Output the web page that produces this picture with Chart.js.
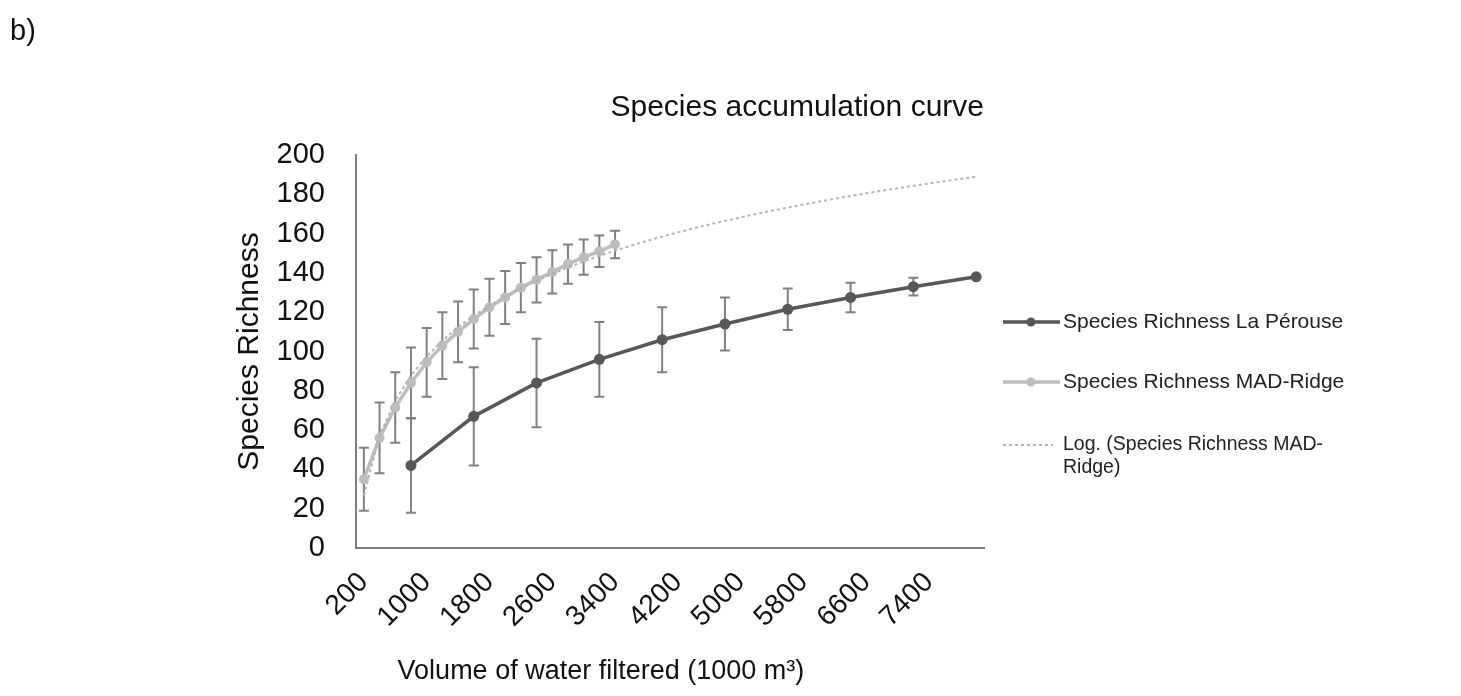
<!DOCTYPE html>
<html>
<head>
<meta charset="utf-8">
<script src="https://cdn.jsdelivr.net/npm/chart.js@4.4.1/dist/chart.umd.min.js"></script>
<style>
  html, body { margin: 0; background: #fff; }
  #wrap { position: relative; width: 1461px; height: 696px; }
  #panel {
    position: absolute; left: 10px; top: 14px;
    font: 29px "Liberation Sans", Arial, sans-serif; color: #111;
  }
</style>
</head>
<body>
<div id="wrap">
  <canvas id="myChart" width="1461" height="696"></canvas>
  <div id="panel">b)</div>
</div>
<script>
// Volume categories (1000 m3), one every 200
const volumes = [
  200, 400, 600, 800, 1000, 1200, 1400, 1600, 1800, 2000,
  2200, 2400, 2600, 2800, 3000, 3200, 3400, 3600, 3800, 4000,
  4200, 4400, 4600, 4800, 5000, 5200, 5400, 5600, 5800, 6000,
  6200, 6400, 6600, 6800, 7000, 7200, 7400, 7600, 7800, 8000,
];

// MAD-Ridge stations
const madRidgeVolumes = [
  200, 400, 600, 800, 1000, 1200, 1400, 1600, 1800,
  2000, 2200, 2400, 2600, 2800, 3000, 3200, 3400,
];
const madRidgeRichness = [
  35, 56, 71.5, 84, 94.5, 103, 110, 116.5, 122.5,
  127.5, 132.5, 136.5, 140.5, 144.5, 148, 151, 154.5,
];
const madRidgeSD = [
  16, 18, 18, 18, 17.5, 17, 15.5, 15, 14.5,
  13.5, 12.5, 11.5, 11, 10, 9, 8, 7,
];

// La Pérouse stations
const laPerouseVolumes = [800, 1600, 2400, 3200, 4000, 4800, 5600, 6400, 7200, 8000];
const laPerouseRichness = [42, 67, 84, 96, 106, 114, 121.5, 127.5, 133, 138];
const laPerouseSD = [24, 25, 22.5, 19, 16.5, 13.5, 10.5, 7.5, 4.5, 0];

const yTicks = [0, 20, 40, 60, 80, 100, 120, 140, 160, 180, 200];

const DARK = "#575757";
const LIGHT = "#bdbdbd";
const TEXT = "#111";

// log trendline (y = a*ln(n) + b, n = category number) fitted on MAD-Ridge
function logFit(ys) {
  const xs = ys.map((_, i) => Math.log(i + 1));
  const n = ys.length;
  const mx = xs.reduce((s, v) => s + v, 0) / n;
  const my = ys.reduce((s, v) => s + v, 0) / n;
  let sxy = 0, sxx = 0;
  xs.forEach((x, i) => {
    sxy += (x - mx) * (ys[i] - my);
    sxx += (x - mx) * (x - mx);
  });
  const a = sxy / sxx;
  return { a, b: my - a * mx };
}
const fit = logFit(madRidgeRichness);

// error bars drawn under the lines
const errorBars = {
  id: "errorBars",
  beforeDatasetsDraw(chart) {
    const { ctx } = chart;
    const y = chart.scales.y;
    ctx.save();
    ctx.strokeStyle = "#808080";
    ctx.lineWidth = 2;
    chart.data.datasets.forEach((ds, di) => {
      if (!ds.errors) return;
      const meta = chart.getDatasetMeta(di);
      meta.data.forEach((pt, i) => {
        const err = ds.errors[i];
        if (!err) return;
        const v = ds.data[i].y;
        const top = y.getPixelForValue(v + err);
        const bot = y.getPixelForValue(v - err);
        ctx.beginPath();
        ctx.moveTo(pt.x, top);
        ctx.lineTo(pt.x, bot);
        ctx.moveTo(pt.x - 5, top);
        ctx.lineTo(pt.x + 5, top);
        ctx.moveTo(pt.x - 5, bot);
        ctx.lineTo(pt.x + 5, bot);
        ctx.stroke();
      });
    });
    ctx.restore();
  },
};

// legend on the right + x axis caption
const sideLegend = {
  id: "sideLegend",
  afterDraw(chart) {
    const { ctx, chartArea } = chart;
    const x0 = chartArea.right + 19;
    const rows = [167, 227, 290];
    ctx.save();
    chart.data.datasets.forEach((ds, i) => {
      const yy = chartArea.top + rows[i];
      ctx.beginPath();
      ctx.setLineDash(ds.borderDash || []);
      ctx.strokeStyle = ds.borderColor;
      ctx.lineWidth = ds.borderWidth;
      ctx.moveTo(x0, yy);
      ctx.lineTo(x0 + (ds.pointRadius ? 57 : 50), yy);
      ctx.stroke();
      ctx.setLineDash([]);
      if (ds.pointRadius) {
        ctx.beginPath();
        ctx.fillStyle = ds.backgroundColor;
        ctx.arc(x0 + 28, yy, 4.5, 0, Math.PI * 2);
        ctx.fill();
      }
      const lines = ds.legendText || [ds.label];
      ctx.fillStyle = "#222";
      ctx.font = (ds.legendSize || 21) + 'px "Liberation Sans", Arial, sans-serif';
      ctx.textBaseline = "middle";
      ctx.textAlign = "left";
      lines.forEach((t, k) => ctx.fillText(t, x0 + 60, yy + k * 23));
    });

    ctx.font = '27px "Liberation Sans", Arial, sans-serif';
    ctx.fillStyle = TEXT;
    ctx.textAlign = "center";
    ctx.textBaseline = "middle";
    ctx.fillText("Volume of water filtered (1000 m³)",
      chartArea.left + chartArea.width * 0.39, chartArea.bottom + 124);
    ctx.restore();
  },
};

Chart.defaults.font.family = '"Liberation Sans", Arial, sans-serif';

const ctx = document.getElementById("myChart");
new Chart(ctx, {
  type: "line",
  data: {
    labels: volumes.map(String),
    datasets: [
      {
        label: "Species Richness La Pérouse",
        data: laPerouseVolumes.map((v, i) => ({ x: String(v), y: laPerouseRichness[i] })),
        errors: laPerouseSD,
        borderColor: DARK,
        backgroundColor: DARK,
        borderWidth: 3.5,
        pointRadius: 5.5,
        pointBorderWidth: 0,
        spanGaps: true,
        order: 0,
      },
      {
        label: "Species Richness MAD-Ridge",
        data: madRidgeVolumes.map((v, i) => ({ x: String(v), y: madRidgeRichness[i] })),
        errors: madRidgeSD,
        borderColor: LIGHT,
        backgroundColor: LIGHT,
        borderWidth: 3.5,
        pointRadius: 5,
        pointBorderWidth: 0,
        order: 2,
      },
      {
        label: "Log. (Species Richness MAD-Ridge)",
        legendText: ["Log. (Species Richness MAD-", "Ridge)"],
        legendSize: 19.5,
        data: volumes.map((v, i) => ({ x: String(v), y: fit.a * Math.log(i + 1) + fit.b })),
        borderColor: "#b3b3b3",
        borderWidth: 2,
        borderDash: [3, 3],
        pointRadius: 0,
        order: 1,
      },
    ],
  },
  options: {
    responsive: false,
    animation: false,
    layout: { padding: { left: 228, right: 477, top: 90, bottom: 0 } },
    plugins: {
      legend: { display: false },
      tooltip: { enabled: false },
      title: {
        display: true,
        text: "Species accumulation curve",
        align: "end",
        color: TEXT,
        font: { size: 30, weight: "normal" },
        padding: { top: 0, bottom: 29 },
      },
    },
    scales: {
      x: {
        type: "category",
        offset: true,
        grid: { display: false, drawTicks: false },
        border: { color: "#7f7f7f", width: 2 },
        ticks: {
          autoSkip: false,
          minRotation: 45,
          maxRotation: 45,
          padding: 18,
          color: TEXT,
          font: { size: 28 },
          callback: function (val, idx) {
            return idx % 4 === 0 ? this.getLabelForValue(val) : null;
          },
        },
        afterFit: (s) => { s.height = 148; },
      },
      y: {
        min: 0,
        max: 200,
        afterBuildTicks: (s) => { s.ticks = yTicks.map((v) => ({ value: v })); },
        grid: { display: false, drawTicks: false },
        border: { color: "#7f7f7f", width: 2 },
        ticks: { padding: 31, color: TEXT, font: { size: 29 } },
        title: {
          display: true,
          text: "Species Richness",
          color: TEXT,
          font: { size: 30 },
          padding: { top: 4, bottom: 8 },
        },
        afterFit: (s) => { s.width = 128; },
      },
    },
  },
  plugins: [errorBars, sideLegend],
});
</script>
</body>
</html>
